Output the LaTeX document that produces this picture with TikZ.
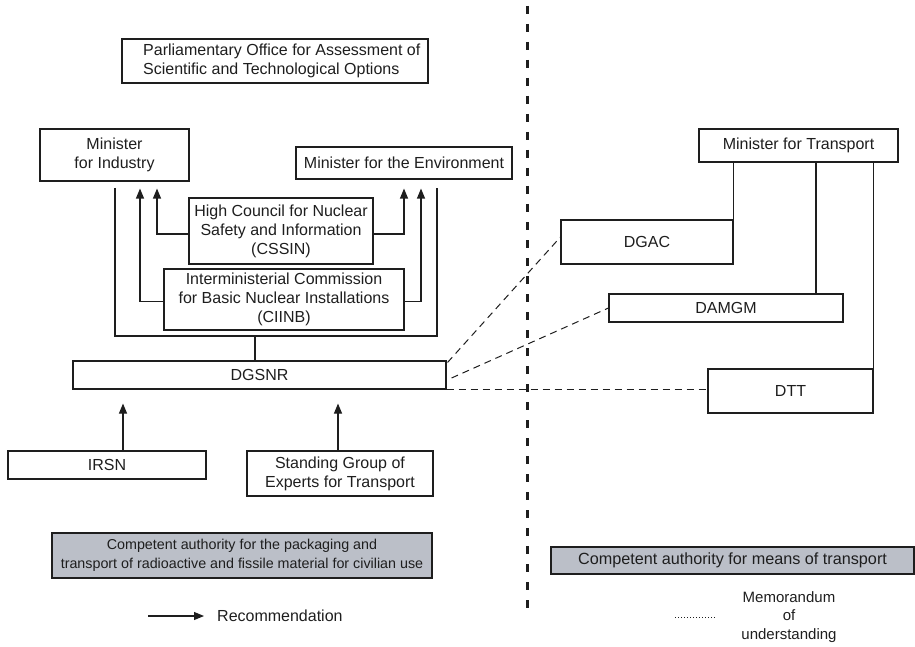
\documentclass[tikz,border=0pt]{standalone}
\usepackage{fontspec}
\setmainfont{Liberation Sans}
\definecolor{AuthGrey}{HTML}{BBBFC8}
\definecolor{LineBlack}{HTML}{1E1E1E}
\usetikzlibrary{arrows.meta, calc}
\tikzset{
	box/.style={draw=LineBlack, line width=1.1pt, inner sep=0pt, align=center, text=LineBlack},
	authbox/.style={box, fill=AuthGrey},
	txt/.style={inner sep=0pt, align=center, text=LineBlack},
	arr/.style={-{Triangle[length=10pt, width=8pt]}, line width=1.1pt, LineBlack},
	link/.style={line width=1.1pt, LineBlack},
	mou/.style={line width=1pt, LineBlack, dash pattern=on 7pt off 5pt}
}

\begin{document}
\begin{tikzpicture}[x=1pt, y=-1pt, every node/.style={font=\fontsize{16}{19}\selectfont}]
		\useasboundingbox (0,0) rectangle (915,647);
		
		% left side
		\node[box, minimum width=306, minimum height=44] (parl) at (275,61) {};
		\node[txt, anchor=west, align=left] (parltxt) at (143,61) {Parliamentary Office for Assessment of\\Scientific and Technological Options};
		
		\node[box, minimum width=149, minimum height=52] (ind) at (114.5,155) {Minister\\for Industry};
		\node[box, minimum width=216, minimum height=32] (env) at (404,163) {Minister for the Environment};
		\node[box, minimum width=184, minimum height=66] (cssin) at (281,231) {High Council for Nuclear\\Safety and Information\\(CSSIN)};
		\node[box, minimum width=240, minimum height=61] (ciinb) at (284,299.5) {Interministerial Commission\\for Basic Nuclear Installations\\(CIINB)};
		\node[box, minimum width=373, minimum height=28] (dgsnr) at (259.5,375) {DGSNR};
		\node[box, minimum width=198, minimum height=28] (irsn) at (107,465) {IRSN};
		\node[box, minimum width=186, minimum height=45] (sget) at (340,473.5) {Standing Group of\\Experts for Transport};
		\node[authbox, minimum width=380, minimum height=45, font=\fontsize{14.3}{18.5}\selectfont] (auth1) at (242,555.5) {Competent authority for the packaging and\\transport of radioactive and fissile material for civilian use};
		
		% right side
		\node[box, minimum width=199, minimum height=33] (trans) at (798.5,145.5) {Minister for Transport};
		\node[box, minimum width=172, minimum height=44] (dgac) at (647,242) {DGAC};
		\node[box, minimum width=234, minimum height=28] (damgm) at (726,308) {DAMGM};
		\node[box, minimum width=165, minimum height=44] (dtt) at (790.5,391) {DTT};
		\node[authbox, minimum width=363, minimum height=27, font=\fontsize{16.2}{19}\selectfont] (auth2) at (732.5,560.5) {Competent authority for means of transport};
		
		% frame round the commissions
		\coordinate (fl) at (115,188);
		\coordinate (fr) at (437,188);
		\coordinate (fm) at (255,336);
		\draw[link] (fl) |- (fm) -| (fr);
		\draw[link] (fm) -- (fm |- dgsnr.north);
		
		% recommendations
		\draw[arr] ([yshift=-2pt]ciinb.west) -| ([xshift=25.5pt, yshift=-7pt]ind.south);
		\draw[arr] ([yshift=-3pt]cssin.west) -| ([xshift=42.5pt, yshift=-7pt]ind.south);
		\draw[arr] ([yshift=-3pt]cssin.east) -| ([yshift=-9pt]env.south);
		\draw[arr] ([yshift=-2pt]ciinb.east) -| ([xshift=17pt, yshift=-9pt]env.south);
		\draw[arr, shorten >=14pt] ([xshift=16pt]irsn.north) -- ([xshift=16pt]irsn.north |- dgsnr.south);
		\draw[arr, shorten >=14pt] ([xshift=-2pt]sget.north) -- ([xshift=-2pt]sget.north |- dgsnr.south);
		
		% ministry of transport
		\draw[link] (trans.south -| dgac.north east) -- (dgac.north east);
		\draw[link] ([xshift=90pt]damgm.north |- trans.south) -- ([xshift=90pt]damgm.north);
		\draw[link] (trans.south -| dtt.north east) -- (dtt.north east);
		
		% memoranda
		\draw[mou] ([xshift=1pt, yshift=-2pt]dgsnr.north east) -- ([yshift=5pt]dgac.west);
		\draw[mou] ([xshift=5pt, yshift=-3pt]dgsnr.east) -- (damgm.west);
		\draw[mou] (dgsnr.south east) -- (dgsnr.south east -| dtt.west);
		
		% divide
		\coordinate (dtop) at (527,6);
		\coordinate (dbot) at (527,615);
		\draw[LineBlack, line width=3pt, dash pattern=on 8pt off 10pt] (dtop) -- (dbot);
		
		% legend
		\coordinate (ra) at (148,616);
		\coordinate (rb) at (204,616);
		\draw[arr] (ra) -- (rb);
		\node[txt, anchor=west] (rectxt) at (217,616) {Recommendation};
		\coordinate (ma) at (675,617);
		\coordinate (mb) at (717,617);
		\draw[LineBlack, line width=0.8pt, dash pattern=on 1pt off 2pt] (ma) -- (mb);
		\node[txt, font=\fontsize{15}{18.5}\selectfont] (moutxt) at (789,617) {Memorandum\\of\\understanding};
	\end{tikzpicture}
\end{document}
